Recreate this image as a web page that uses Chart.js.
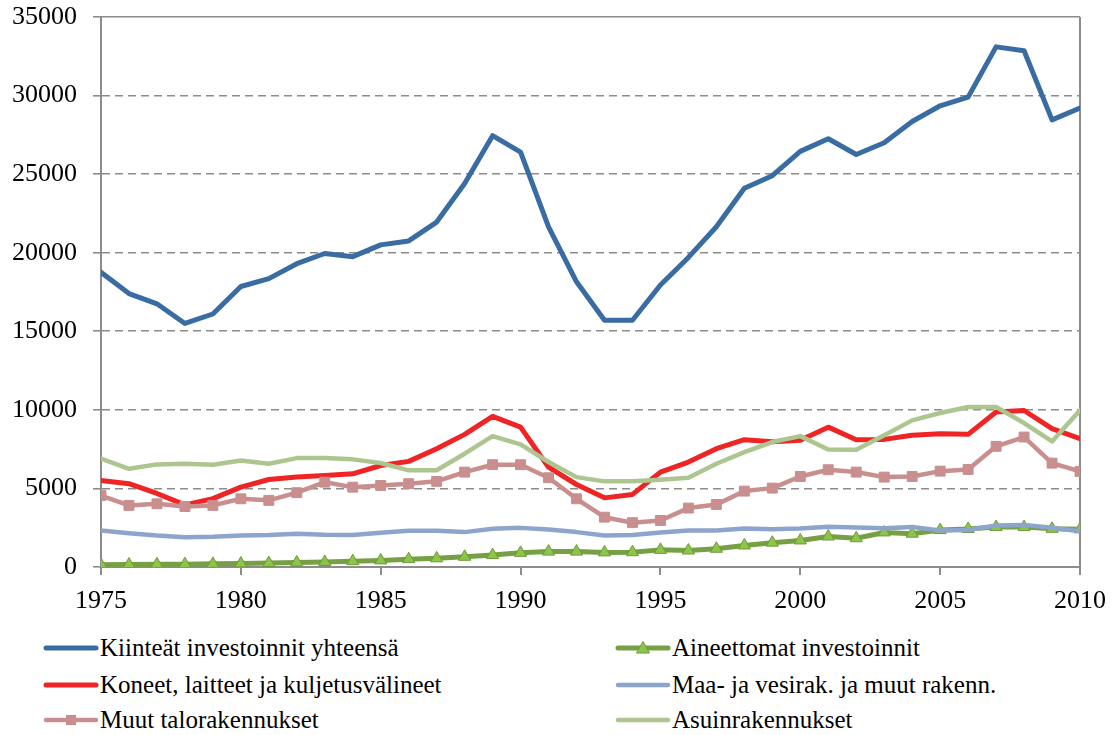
<!DOCTYPE html>
<html lang="fi">
<head>
<meta charset="utf-8">
<title>Investoinnit 1975–2010</title>
<script src="https://cdn.jsdelivr.net/npm/chart.js@4"></script>
<style>
  body { margin: 0; background: #fff; font-family: 'Liberation Serif', 'Times New Roman', Times, 'DejaVu Serif', 'Noto Serif', serif; }
  #wrap { position: relative; width: 1112px; height: 735px; overflow: hidden; }
  #chart1 { position: absolute; left: 0; top: 0; }
  .leg { position: absolute; display: flex; align-items: center; height: 30px; font-size: 25px; color: #000; white-space: nowrap; }
  .leg svg { flex: none; }
</style>
</head>
<body>
<div id="wrap">
  <canvas id="chart1" width="1112" height="620"></canvas>
  <div id="legend"></div>
</div>
<script>
// vuodet ja sarjat (milj. euroa), luettu kuvasta
const years = [1975, 1976, 1977, 1978, 1979, 1980, 1981, 1982, 1983, 1984, 1985, 1986, 1987, 1988, 1989, 1990, 1991, 1992,
  1993, 1994, 1995, 1996, 1997, 1998, 1999, 2000, 2001, 2002, 2003, 2004, 2005, 2006, 2007, 2008, 2009, 2010];
const kiinteat = [18750, 17400, 16750, 15500, 16100, 17850, 18350, 19300, 19950, 19750, 20500, 20750, 21950, 24400, 27450, 26400, 21650, 18150,
  15700, 15700, 17950, 19700, 21650, 24100, 24900, 26450, 27250, 26250, 27000, 28350, 29350, 29900, 33100, 32850, 28450, 29200];
const aineettomat = [150, 160, 170, 180, 200, 220, 250, 290, 320, 370, 420, 500, 550, 650, 760, 900, 980, 980,
  930, 940, 1090, 1050, 1160, 1370, 1550, 1690, 1940, 1830, 2200, 2120, 2350, 2420, 2540, 2540, 2430, 2400];
const koneet = [5500, 5300, 4680, 3950, 4350, 5080, 5570, 5720, 5830, 5930, 6460, 6720, 7530, 8440, 9580, 8900, 6350, 5250,
  4400, 4620, 6040, 6680, 7530, 8100, 7970, 8060, 8900, 8100, 8120, 8380, 8480, 8440, 9860, 9960, 8800, 8160];
const maaVesi = [2330, 2150, 2000, 1900, 1920, 2000, 2030, 2110, 2050, 2030, 2180, 2300, 2300, 2220, 2430, 2490, 2380, 2220,
  2010, 2040, 2200, 2330, 2330, 2450, 2400, 2450, 2560, 2520, 2460, 2540, 2330, 2350, 2640, 2680, 2500, 2280];
const muutTalo = [4550, 3920, 4020, 3850, 3920, 4340, 4240, 4730, 5400, 5080, 5190, 5300, 5450, 6040, 6510, 6510, 5680, 4340,
  3170, 2820, 2960, 3750, 3980, 4830, 5020, 5760, 6190, 6040, 5720, 5760, 6100, 6210, 7680, 8270, 6610, 6080];
const asuin = [6890, 6250, 6530, 6570, 6510, 6780, 6570, 6930, 6930, 6850, 6620, 6150, 6160, 7210, 8330, 7800, 6680, 5720,
  5450, 5450, 5550, 5680, 6570, 7310, 7950, 8330, 7480, 7460, 8380, 9330, 9800, 10180, 10180, 9160, 7990, 9970];
const yTicks = [0, 5000, 10000, 15000, 20000, 25000, 30000, 35000];
const xTicks = [1975, 1980, 1985, 1990, 1995, 2000, 2005, 2010];

const fontFamily = "'Liberation Serif', 'Times New Roman', Times, 'DejaVu Serif', 'Noto Serif', serif";
const gridColor = '#8c8c8c';

function pts(vals) {
  return years.map((y, i) => ({ x: y, y: vals[i] }));
}

// sarjojen järjestys kuten selitteessä (rivi kerrallaan)
const series = [
  { label: 'Kiinteät investoinnit yhteensä', data: kiinteat, color: '#386ca2', width: 5 },
  { label: 'Aineettomat investoinnit', data: aineettomat, color: '#76a043', width: 5, marker: 'triangle', markerFill: '#8cc44c', markerBorder: '#6f9a38', radius: 7 },
  { label: 'Koneet, laitteet ja kuljetusvälineet', data: koneet, color: '#ef2424', width: 5 },
  { label: 'Maa- ja vesirak. ja muut rakenn.', data: maaVesi, color: '#8da5cc', width: 4.5 },
  { label: 'Muut talorakennukset', data: muutTalo, color: '#c98e8e', width: 4.5, marker: 'rect', markerFill: '#c98e8e', markerBorder: '#c98e8e', radius: 7 },
  { label: 'Asuinrakennukset', data: asuin, color: '#adc690', width: 4.5 }
];

const ctx = document.getElementById('chart1').getContext('2d');
const chart = new Chart(ctx, {
  type: 'line',
  data: {
    datasets: series.map((s, i) => ({
      label: s.label,
      data: pts(s.data),
      borderColor: s.color,
      borderWidth: s.width,
      backgroundColor: s.markerFill || s.color,
      pointStyle: s.marker || 'circle',
      pointRadius: s.marker ? s.radius : 0,
      pointBorderColor: s.markerBorder || s.color,
      pointBorderWidth: 1,
      pointBackgroundColor: s.markerFill || s.color,
      fill: false,
      tension: 0,
      order: series.length - i
    }))
  },
  options: {
    responsive: false,
    animation: false,
    layout: { padding: { top: 0, right: 32, bottom: 3, left: 0 } },
    plugins: { legend: { display: false }, tooltip: { enabled: false } },
    elements: { line: { borderJoinStyle: 'round', borderCapStyle: 'round' } },
    scales: {
      x: {
        type: 'linear',
        min: 1975,
        max: 2010,
        afterBuildTicks: scale => { scale.ticks = xTicks.map(v => ({ value: v })); },
        afterFit: scale => {
          scale.height = 50;
          scale.paddingLeft = 0;
          scale.paddingRight = 0;
        },
        ticks: {
          color: '#000',
          font: { family: fontFamily, size: 26 },
          padding: 11,
          maxRotation: 0,
          callback: v => String(v)
        },
        grid: {
          color: c => (c.tick && c.tick.value === 2010 ? gridColor : 'rgba(0,0,0,0)'),
          tickColor: gridColor,
          tickLength: 8,
          lineWidth: 2
        },
        border: { color: gridColor, width: 2 }
      },
      y: {
        min: 0,
        max: 35000,
        afterBuildTicks: scale => { scale.ticks = yTicks.map(v => ({ value: v })); },
        afterFit: scale => {
          scale.width = 101;
          scale.paddingTop = 17;
          scale.paddingBottom = 0;
        },
        ticks: {
          color: '#000',
          font: { family: fontFamily, size: 26 },
          padding: 16,
          callback: v => String(v)
        },
        grid: {
          color: gridColor,
          lineWidth: 1.6,
          tickLength: 8
        },
        border: {
          color: gridColor,
          width: 2,
          dash: c => (c.tick && c.tick.value === 35000 ? [] : [8, 5])
        }
      }
    }
  }
});

// selite kahteen sarakkeeseen kuvan tapaan
const legendEl = document.getElementById('legend');
const colX = [43, 615];
const rowY = [648, 685, 720];
chart.data.datasets.forEach((ds, i) => {
  const s = series[i];
  const item = document.createElement('div');
  item.className = 'leg';
  item.style.left = colX[i % 2] + 'px';
  item.style.top = (rowY[Math.floor(i / 2)] - 15) + 'px';
  let mark = '';
  if (s.marker === 'rect') {
    mark = '<rect x="23" y="3" width="10" height="10" fill="' + s.markerFill + '"/>';
  } else if (s.marker === 'triangle') {
    mark = '<polygon points="28,1.5 34.5,13 21.5,13" fill="' + s.markerFill + '" stroke="' + s.markerBorder + '" stroke-width="1"/>';
  }
  item.innerHTML = '<svg width="57" height="16" viewBox="0 0 57 16">' +
    '<line x1="3" y1="8" x2="53" y2="8" stroke="' + ds.borderColor + '" stroke-width="' + s.width + '" stroke-linecap="round"/>' +
    mark + '</svg><span>' + ds.label + '</span>';
  legendEl.appendChild(item);
});
</script>
</body>
</html>
